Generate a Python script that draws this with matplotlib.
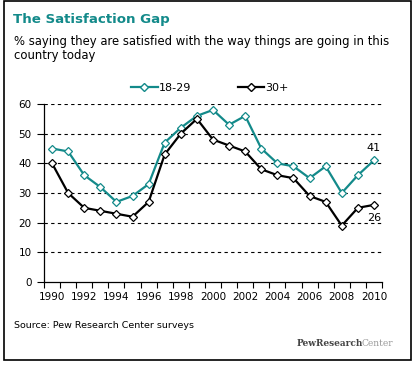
import matplotlib.pyplot as plt
from matplotlib.patches import Rectangle
from matplotlib.lines import Line2D
import numpy as np

# datos
years = list(range(1990, 2011))
young = [45, 44, 36, 32, 27, 29, 33, 47, 52, 56, 58, 53, 56, 45, 40, 39, 35, 39, 30, 36, 41]
older = [40, 30, 25, 24, 23, 22, 27, 43, 50, 55, 48, 46, 44, 38, 36, 35, 29, 27, 19, 25, 26]
series_names = ['18-29', '30+']
yticks = [0, 10, 20, 30, 40, 50, 60]

teal = '#138a8a'
W, H = 414, 366

fig = plt.figure(figsize=(W / 100, H / 100), dpi=100)
plt.rcParams['font.family'] = 'DejaVu Sans'

# marco exterior
fig.patches.append(Rectangle((4 / W, 1 - 360 / H), 407 / W, 359 / H, transform=fig.transFigure,
                             fill=False, edgecolor='black', linewidth=1.2))

fig.text(13 / W, 1 - 20 / H, 'The Satisfaction Gap', color=teal, fontsize=9.6,
         fontweight='bold', va='center', ha='left')
fig.text(14 / W, 1 - 41 / H, '% saying they are satisfied with the way things are going in this',
         fontsize=8.4, va='center', ha='left')
fig.text(14 / W, 1 - 56 / H, 'country today', fontsize=8.4, va='center', ha='left')

ax = fig.add_axes([44 / W, 1 - 282 / H, 338 / W, 178 / H])
x = np.arange(len(years))
ax.plot(x, young, color=teal, linewidth=1.6, marker='D', markersize=4.5,
        markerfacecolor='white', markeredgecolor=teal, markeredgewidth=0.9, zorder=3)
ax.plot(x, older, color='black', linewidth=1.6, marker='D', markersize=4.5,
        markerfacecolor='white', markeredgecolor='black', markeredgewidth=0.9, zorder=4)

ax.set_xlim(-0.5, len(years) - 0.5)
ax.set_ylim(0, 60)
ax.set_yticks(yticks)
ax.set_xticks(np.arange(-0.5, len(years), 1.0))
ax.set_xticklabels([])
ax.set_xticks(x[::2], minor=True)
ax.set_xticklabels([str(y) for y in years[::2]], minor=True, fontsize=7.5)
ax.tick_params(axis='x', which='major', length=4, direction='out', width=0.8)
ax.tick_params(axis='x', which='minor', length=0, pad=7)
ax.tick_params(axis='y', length=5, direction='out', width=0.8, labelsize=7.5, pad=4)
for v in yticks[1:]:
    ax.axhline(v, color='black', linestyle=(0, (3, 3)), linewidth=0.8, zorder=1)
for s in ['top', 'right']:
    ax.spines[s].set_visible(False)
for s in ['left', 'bottom']:
    ax.spines[s].set_linewidth(0.9)

# etiquetas del ultimo valor
ax.annotate(str(young[-1]), (x[-1], young[-1]), xytext=(0, 5), textcoords='offset points',
            ha='center', va='bottom', fontsize=8)
ax.annotate(str(older[-1]), (x[-1], older[-1]), xytext=(0, -6), textcoords='offset points',
            ha='center', va='top', fontsize=8)

# leyenda
handles = [Line2D([], [], color=teal, linewidth=1.6, marker='D', markersize=4.5,
                  markerfacecolor='white', markeredgecolor=teal),
           Line2D([], [], color='black', linewidth=1.6, marker='D', markersize=4.5,
                  markerfacecolor='white', markeredgecolor='black')]
fig.legend(handles, series_names, loc='center', bbox_to_anchor=(210 / W, 1 - 88 / H),
           ncol=2, frameon=False, fontsize=8, handlelength=2.4, handletextpad=0.1,
           columnspacing=4.2)

fig.text(14 / W, 1 - 325 / H, 'Source: Pew Research Center surveys', fontsize=6.8,
         va='center', ha='left')
logo = fig.text(297 / W, 1 - 343 / H, 'PewResearch', family='DejaVu Serif', fontsize=6.5,
                fontweight='bold', color='#444444', va='center', ha='left')
ax.annotate('Center', xy=(1, 0.5), xycoords=logo, xytext=(-1, 0), textcoords='offset points',
            family='DejaVu Serif', fontsize=6.5, color='#999999', va='center', ha='left',
            annotation_clip=False)

fig.savefig('out.png', dpi=100)
